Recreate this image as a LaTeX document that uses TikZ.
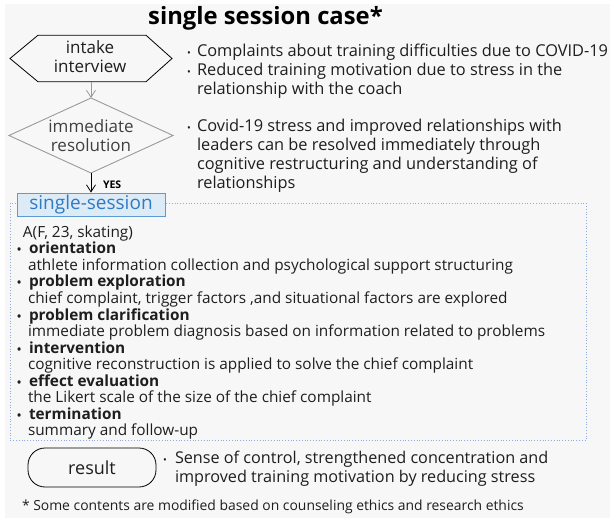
\documentclass[tikz,border=0pt]{standalone}
\usepackage{fontspec}
\setmainfont{Open Sans}
\usetikzlibrary{arrows.meta}
\definecolor{bg}{HTML}{F7F7F7}
\definecolor{ink}{HTML}{1E1E1E}
\definecolor{shapegray}{HTML}{9A9A9A}
\definecolor{ssfill}{HTML}{DDEBF7}
\definecolor{ssline}{HTML}{5B9BD5}
\definecolor{sstext}{HTML}{2E7BC4}
\definecolor{dotline}{HTML}{8FAADC}
\begin{document}
\begin{tikzpicture}[x=1pt,y=-1pt,
  txt/.style={anchor=base west, inner sep=0pt, outer sep=0pt, text=ink},
  body/.style={txt, font=\fontsize{15.35}{18}\selectfont},
  bodyb/.style={txt, font=\fontsize{15.35}{18}\selectfont\bfseries},
  side/.style={txt, font=\fontsize{16.35}{19}\selectfont},
  bul/.style={txt, font=\fontsize{10}{12}\selectfont},
  bulb/.style={txt, font=\fontsize{11}{12}\selectfont\bfseries},
  boxtxt/.style={anchor=base, inner sep=0pt, text=ink, font=\fontsize{17}{19}\selectfont},
  frame/.style={draw=none, inner sep=0pt, outer sep=0pt},
  barb/.style={-{Straight Barb[length=7pt,width=9pt]}, line width=0.8pt}
]
\useasboundingbox (0,0) rectangle (610,518);
\fill[white] (0,0) rectangle (610,518);
\fill[bg] (5,4) rectangle (610,518);

% title
\node[anchor=base, inner sep=0pt, text=black, font=\fontsize{23.8}{26}\selectfont\bfseries] (title) at (265.5,25) {single session case*};

% hexagon
\node[frame, minimum width=162pt, minimum height=46.5pt] (hex) at (91,58.5) {};
\draw[black, line width=0.8pt] (hex.west) -- ([xshift=28pt]hex.north west) -- ([xshift=-26pt]hex.north east)
  -- (hex.east) -- ([xshift=-26pt]hex.south east) -- ([xshift=28pt]hex.south west) -- cycle;
\node[boxtxt] (hex1) at (90,54) {intake};
\node[boxtxt] (hex2) at (90,73) {interview};

% diamond
\node[frame, minimum width=164pt, minimum height=75pt] (dia) at (91,135.5) {};
\draw[shapegray, line width=0.9pt] (dia.north) -- (dia.east) -- (dia.south) -- (dia.west) -- cycle;
\node[boxtxt, text=ink!85] (dia1) at (91,133) {immediate};
\node[boxtxt, text=ink!85] (dia2) at (91,152) {resolution};

% arrows
\draw[barb, shapegray] (hex.south) -- (dia.north);

% container
\draw[dotline, dotted, line width=0.8pt] (10,203) rectangle (586,440.5);

% single-session box
\node[draw=ssline, fill=ssfill, line width=0.9pt, minimum width=148pt, minimum height=23pt, inner sep=0pt,
  text=sstext, font=\fontsize{19}{21}\selectfont] (ss) at (91,204.5) {single-session};
\draw[barb, black] (dia.south) -- (ss.north);
\node[txt, text=black, font=\fontsize{10.5}{12}\selectfont\bfseries] (yes) at (103,189) {YES};

% right side notes
\node[bul] (r1b) at (187,57) {•};
\node[side] (r1) at (197,57) {Complaints about training difficulties due to COVID-19};
\node[bul] (r2b) at (187,76) {•};
\node[side] (r2) at (197,76) {Reduced training motivation due to stress in the};
\node[side] (r3) at (197,95) {relationship with the coach};
\node[bul] (r4b) at (187,132) {•};
\node[side] (r4) at (197,132) {Covid-19 stress and improved relationships with};
\node[side] (r5) at (197,151) {leaders can be resolved immediately through};
\node[side] (r6) at (197,170) {cognitive restructuring and understanding of};
\node[side] (r7) at (197,189) {relationships};

% body
\node[body] (a) at (23,237.5) {A(F, 23, skating)};
\node[bulb] (b1b) at (17,254) {•};
\node[bodyb] (b1) at (29,254) {orientation};
\node[body] (d1) at (28,270.5) {athlete information collection and psychological support structuring};
\node[bulb] (b2b) at (17,287) {•};
\node[bodyb] (b2) at (29,287) {problem exploration};
\node[body] (d2) at (28,303.5) {chief complaint, trigger factors ,and situational factors are explored};
\node[bulb] (b3b) at (17,320) {•};
\node[bodyb] (b3) at (29,320) {problem clarification};
\node[body] (d3) at (28,336.5) {immediate problem diagnosis based on information related to problems};
\node[bulb] (b4b) at (17,353) {•};
\node[bodyb] (b4) at (29,353) {intervention};
\node[body] (d4) at (28,369.5) {cognitive reconstruction is applied to solve the chief complaint};
\node[bulb] (b5b) at (17,386) {•};
\node[bodyb] (b5) at (29,386) {effect evaluation};
\node[body] (d5) at (28,402.5) {the Likert scale of the size of the chief complaint};
\node[bulb] (b6b) at (17,419) {•};
\node[bodyb] (b6) at (29,419) {termination};
\node[body] (d6) at (28,435.5) {summary and follow-up};

% result
\node[draw=black, line width=0.8pt, rounded corners=17pt, minimum width=128pt, minimum height=39pt, inner sep=0pt,
  text=ink, font=\fontsize{18}{20}\selectfont] (res) at (92,467.5) {result};
\node[bul] (s1b) at (163,463) {•};
\node[side, font=\fontsize{16.2}{19}\selectfont] (s1) at (175,463) {Sense of control, strengthened concentration and};
\node[side, font=\fontsize{16.2}{19}\selectfont] (s2) at (175,482) {improved training motivation by reducing stress};

% footnote
\node[txt, font=\fontsize{13.9}{15}\selectfont] (foot) at (22,510) {* Some contents are modified based on counseling ethics and research ethics};
\end{tikzpicture}
\end{document}
